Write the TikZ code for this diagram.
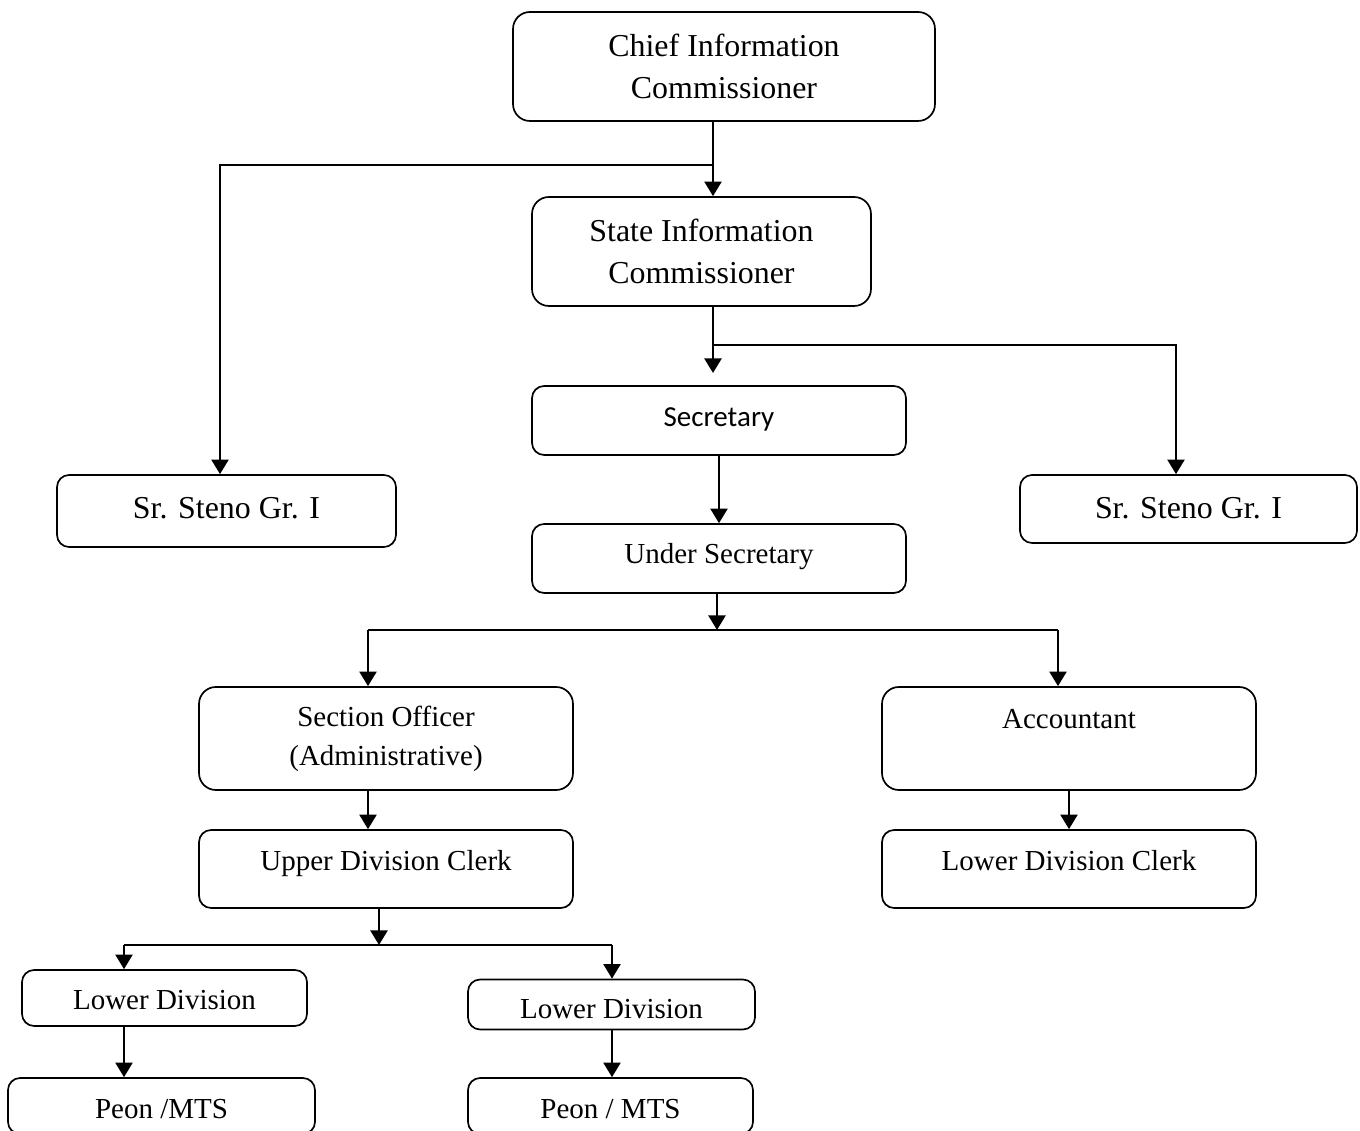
\documentclass[tikz,border=0pt]{standalone}
\usepackage{fontspec}
\setmainfont{Liberation Serif}
\newfontfamily\calibri{Carlito}
\usetikzlibrary{arrows.meta}

\tikzset{
  post/.style={draw, line width=0.7pt, rounded corners=5pt, inner sep=0pt},
  bigtext/.style={font=\fontsize{13.2}{17.4}\selectfont},
  smalltext/.style={font=\fontsize{12}{16.1}\selectfont},
  lift/.style 2 args={text height=#1, text depth=#2},
  link/.style={line width=1pt, -{Triangle[width=7pt,length=6pt]}},
  wire/.style={line width=1pt}
}

\begin{document}
\begin{tikzpicture}[x=0.01454cm, y=-0.01454cm]
        \useasboundingbox (0,0) rectangle (1360,1131);

        % commissioners
        \node[post, bigtext, align=center, rounded corners=7pt, minimum width=6.136cm, minimum height=1.585cm] (chief) at (724,66.5) {Chief Information\\Commissioner};
        \node[post, bigtext, align=center, rounded corners=7pt, minimum width=4.929cm, minimum height=1.585cm] (state) at (701.5,251.5) {State Information\\Commissioner};

        \node[post, bigtext, lift={9.5pt}{3.2pt}, minimum width=4.929cm, minimum height=1.047cm] (stenoL) at (226.5,511) {Sr. Steno Gr. I};
        \node[post, bigtext, lift={9.5pt}{1.6pt}, minimum width=4.9cm, minimum height=0.989cm] (stenoR) at (1188.5,509) {Sr. Steno Gr. I};

        % secretariat
        \node[post, font=\calibri\fontsize{12}{14}\selectfont, lift={9pt}{4.2pt}, minimum width=5.438cm, minimum height=1.003cm] (secy) at (719,420.5) {Secretary};
        \node[post, smalltext, lift={9pt}{4.8pt}, minimum width=5.438cm, minimum height=1.003cm] (under) at (719,558.5) {Under Secretary};

        \node[post, smalltext, align=center, rounded corners=7pt, minimum width=5.438cm, minimum height=1.498cm] (sect) at (386,738.5) {Section Officer\\(Administrative)};
        \node[post, smalltext, lift={9pt}{17.2pt}, rounded corners=7pt, minimum width=5.438cm, minimum height=1.498cm] (acct) at (1069,738.5) {Accountant};

        \node[post, smalltext, lift={9pt}{7.7pt}, minimum width=5.438cm, minimum height=1.134cm] (udc) at (386,869) {Upper Division Clerk};
        \node[post, smalltext, lift={9pt}{7.7pt}, minimum width=5.438cm, minimum height=1.134cm] (ldc) at (1069,869) {Lower Division Clerk};

        % bottom row
        \node[post, smalltext, lift={9.6pt}{0pt}, minimum width=4.144cm, minimum height=0.814cm] (lowL) at (164.5,998) {Lower Division};
        \node[post, smalltext, lift={12pt}{0pt}, minimum width=4.173cm, minimum height=0.727cm] (lowR) at (611.5,1004.5) {Lower Division};
        \node[post, smalltext, lift={10.4pt}{0pt}, minimum width=4.464cm, minimum height=0.814cm] (peonL) at (161.5,1106) {Peon /MTS};
        \node[post, smalltext, lift={10.4pt}{0pt}, minimum width=4.144cm, minimum height=0.814cm] (peonR) at (610.5,1106) {Peon / MTS};

        % junctions
        \coordinate (j1) at (713,165);
        \coordinate (j1l) at (220,165);
        \coordinate (j2) at (713,345);
        \coordinate (j2r) at (1176,345);
        \coordinate (t2) at (713,373);
        \coordinate (j4) at (717,630);
        \coordinate (j4l) at (368,630);
        \coordinate (j4r) at (1058,630);
        \coordinate (j7) at (379,945);
        \coordinate (j7l) at (124,945);
        \coordinate (j7r) at (612,945);

        \draw[link] (chief.south -| j1) -- (state.north -| j1);
        \draw[link] (j1) -- (j1l) -- (stenoL.north -| j1l);
        \draw[link] (state.south -| j2) -- (t2);
        \draw[link] (j2) -- (j2r) -- (stenoR.north -| j2r);

        \draw[link] (secy.south) -- (under.north);
        \draw[link] (under.south -| j4) -- (j4);
        \draw[wire] (j4l) -- (j4r);
        \draw[link] (j4l) -- (sect.north -| j4l);
        \draw[link] (j4r) -- (acct.north -| j4r);
        \draw[link] (sect.south -| j4l) -- (udc.north -| j4l);
        \draw[link] (acct.south) -- (ldc.north);

        \draw[link] (udc.south -| j7) -- (j7);
        \draw[wire] (j7l) -- (j7r);
        \draw[link] (j7l) -- (lowL.north -| j7l);
        \draw[link] (j7r) -- (lowR.north -| j7r);
        \draw[link] (lowL.south -| j7l) -- (peonL.north -| j7l);
        \draw[link] (lowR.south -| j7r) -- (peonR.north -| j7r);
\end{tikzpicture}
\end{document}
